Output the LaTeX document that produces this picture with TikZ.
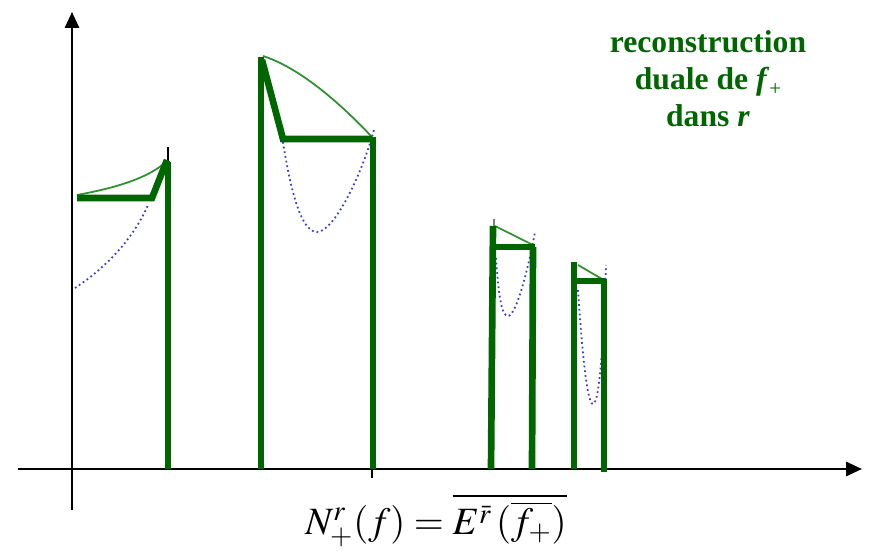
\documentclass[tikz,border=0pt]{standalone}
\usepackage{mathptmx}
\usepackage{fontspec}
\setmainfont{Liberation Serif}
\usetikzlibrary{arrows.meta}
\definecolor{darkgr}{RGB}{0,102,0}
\definecolor{lightgr}{RGB}{45,145,45}
\definecolor{dotblue}{RGB}{60,60,215}
\tikzset{
  axis/.style={black, line width=1.4pt, -{Triangle[length=9pt,width=8pt]}},
  bar/.style={darkgr, line width=3.8pt},
  curve/.style={lightgr, line width=1pt},
  guess/.style={dotblue, line width=1pt, dash pattern=on 1pt off 1.7pt},
  tick/.style={black, line width=0.6pt},
}
\begin{document}
\begin{tikzpicture}[x=0.02cm, y=-0.02cm]
	\useasboundingbox (0,0) rectangle (869,553);
	% axes
	\coordinate (ybot) at (72,510);
	\coordinate (ytop) at (72,12);
	\coordinate (xleft) at (18,469);
	\coordinate (xright) at (862,469);
	\draw[axis] (ybot) -- (ytop);
	\draw[axis] (xleft) -- (xright);
	% dotted functions
	\draw[guess] (75,288) .. controls (110,265) and (135,235) .. (148,205);
	\draw[guess] (283,142) .. controls (292,200) and (303,232) .. (317,232)
		.. controls (333,232) and (360,180) .. (374,130);
	\draw[guess] (496,258) .. controls (499,300) and (502,316) .. (508,316)
		.. controls (516,316) and (528,270) .. (535,232);
	\draw[guess] (578,290) .. controls (582,350) and (587,404) .. (593,404)
		.. controls (600,404) and (604,330) .. (606,265);
	% thin green curves
	\draw[curve] (77,195) .. controls (115,188) and (150,178) .. (168,160);
	\draw[curve] (263,56) .. controls (300,68) and (340,103) .. (372,137);
	\draw[curve] (495,226) -- (533,245);
	\draw[curve] (578,265) -- (602,279);
	% small ticks
	\draw[tick] (168,147) -- (168,162);
	\draw[tick] (372,469) -- (372,478);
	\draw[tick, gray] (494,219) -- (494,226);
	% thick reconstruction
	\draw[bar] (168,469) -- (168,162);
	\draw[bar] (77,198) -- (152,198) -- (167,160);
	\draw[bar] (261,469) -- (261,57);
	\draw[bar] (262,60) -- (283,139) -- (372,139);
	\draw[bar] (373,137) -- (373,469);
	\draw[bar] (491,469) -- (493,226);
	\draw[bar] (493,247) -- (535,247);
	\draw[bar] (532,469) -- (533,247);
	\draw[bar] (574,469) -- (574,262);
	\draw[bar] (575,281) -- (605,281);
	\draw[bar] (604,472) -- (604,279);
	% labels
	\node[darkgr, font=\fontsize{18}{21}\selectfont\bfseries, align=center] (title) at (708,79)
		{reconstruction\\duale de \textit{f}\raisebox{-0.4ex}{\mdseries\fontsize{12}{12}\selectfont +}\\dans \textit{r}};
	\node[anchor=base, font=\fontsize{22}{24}\selectfont] (formula) at (436,535)
		{$N_+^r(f) = \overline{E^{\bar r}\,(\overline{f_+})}$};
\end{tikzpicture}
\end{document}
